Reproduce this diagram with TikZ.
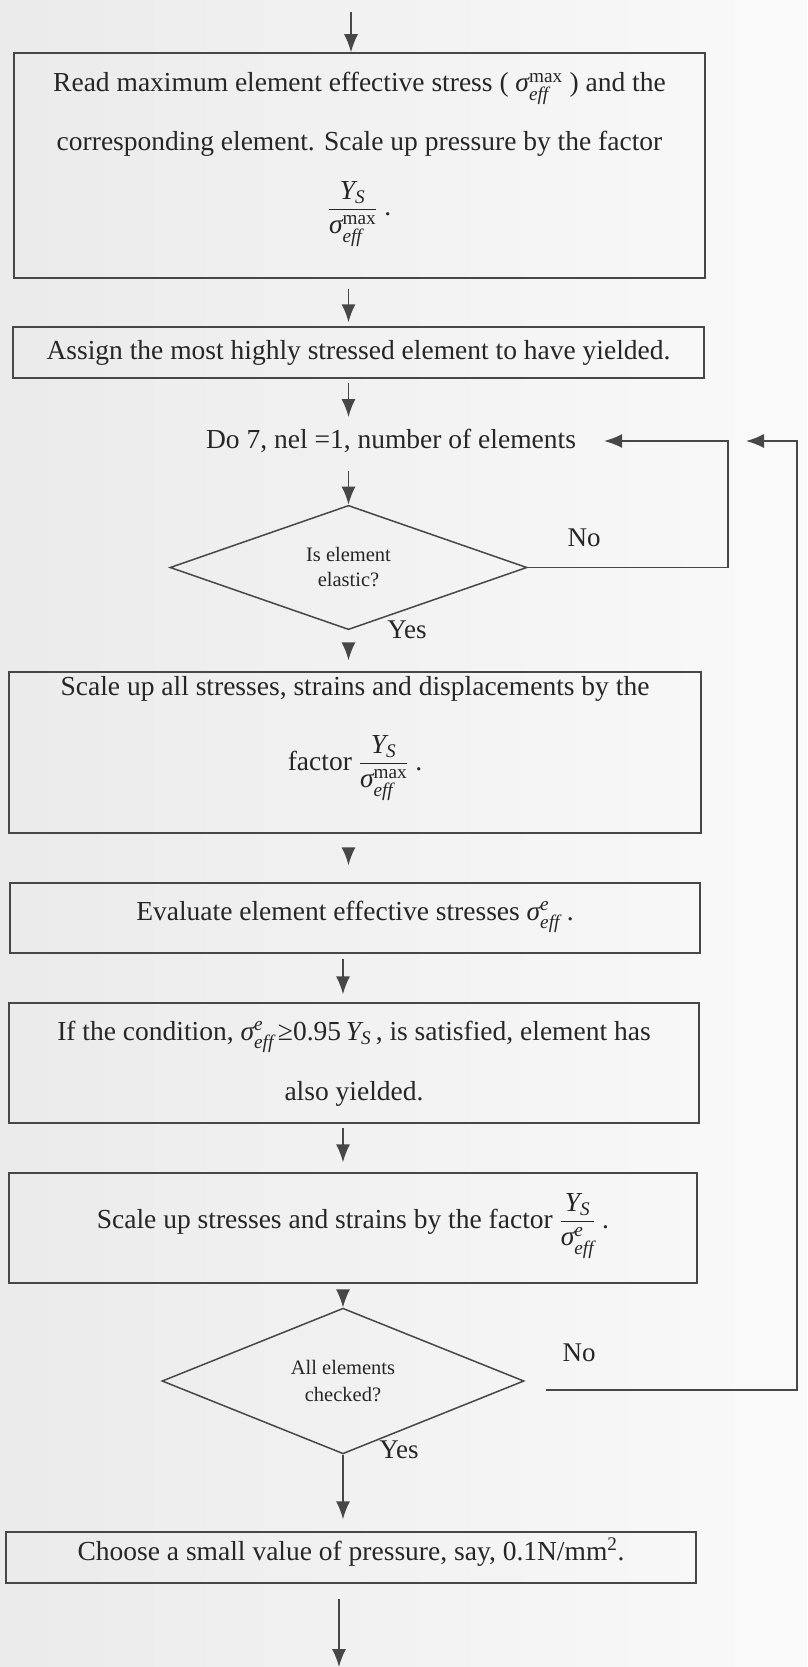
\documentclass[tikz,border=0pt]{standalone}
\usepackage{amsmath}
\usepackage{fontspec}
\setmainfont{Liberation Serif}
\usetikzlibrary{arrows.meta,shapes.geometric}

% symbols used in the step texts
\newcommand{\SigMax}{\textit{σ}^{\text{max}}_{\textit{eff}}}
\newcommand{\SigE}{\textit{σ}^{\textit{e}}_{\textit{eff}}}
\newcommand{\YS}{\textit{Y}_{\textit{S}}}

\tikzset{
  flow/.style={draw=black!72, line width=1.5pt},
  % a process box: the first baseline sits "text height" below the top edge
  box/.style={flow, rectangle, inner sep=0pt, align=flush center, text=black!85,
    font=\fontsize{27.5}{59}\selectfont},
  decision/.style={flow, diamond, inner sep=0pt, align=center, text=black!85,
    font=\fontsize{20.5}{25}\selectfont},
  plain/.style={inner sep=0pt, text=black!85, font=\fontsize{27.5}{33}\selectfont},
  tag/.style={inner sep=0pt, text=black!85, font=\fontsize{27}{32}\selectfont},
  arrow/.style={flow, -{Latex[length=18pt,width=14pt]}},
}

\begin{document}
\begin{tikzpicture}[x=1pt, y=-1pt]
\useasboundingbox (0,0) rectangle (807,1667);
\shade[left color=black!8, right color=black!2] (0,0) rectangle (807,1667);

% ---- steps ----
\node[box, text width=691pt, text height=39pt, text depth=186pt] (b1) at (359.5,165.5)
  {Read maximum element effective stress ( $\SigMax$ ) and the\\
   corresponding element. Scale up pressure by the factor\\[6pt]
   $\dfrac{\YS}{\SigMax}$ .};
\node[box, text width=691pt, text height=32pt, text depth=19pt] (b2) at (358.5,352.5)
  {Assign the most highly stressed element to have yielded.};
\node[plain] (do) at (391,441) {Do 7, nel =1, number of elements};
\node[decision, minimum width=357pt, minimum height=115pt] (d1) at (348.5,567.5)
  {Is element\\elastic?};
\node[box, text width=692pt, text height=23pt, text depth=138pt] (b3) at (355,752.5)
  {Scale up all stresses, strains and displacements by the\\[16pt]
   factor $\dfrac{\YS}{\SigMax}$ .};
\node[box, text width=690pt, text height=37pt, text depth=33pt] (b4) at (355,918)
  {Evaluate element effective stresses $\SigE$ .};
\node[box, text width=690pt, text height=37pt, text depth=83pt] (b5) at (354,1063)
  {If the condition, $\SigE\,$≥0.95\,$\YS$\,, is satisfied, element has\\[1pt]
   also yielded.};
\node[box, text width=688pt, text height=55pt, text depth=55pt] (b6) at (353,1228)
  {Scale up stresses and strains by the factor $\dfrac{\YS}{\SigE}$ .};
\node[decision, minimum width=362pt, minimum height=128pt,
  font=\fontsize{20.5}{27}\selectfont] (d2) at (343,1381)
  {All elements\\checked?};
\node[box, text width=690pt, text height=28pt, text depth=23pt] (b7) at (351,1557.5)
  {Choose a small value of pressure, say, 0.1N/mm\textsuperscript{2}.};

% ---- branch labels ----
\node[tag] (no1) at (584,538) {No};
\node[tag] (yes1) at (407,630) {Yes};
\node[tag] (no2) at (579,1353) {No};
\node[tag] (yes2) at (399,1450) {Yes};

% ---- main flow ----
\coordinate (entry) at (351,12);
\coordinate (exit) at (339,1667);
\draw[arrow] (entry) -- (entry |- b1.north);
\draw[arrow, shorten <=10pt, shorten >=4pt] (b1.south -| d1) -- (b2.north -| d1);
\draw[arrow, shorten <=4pt, shorten >=12pt] (b2.south -| d1) -- (do.north -| d1);
\draw[arrow, shorten <=18pt] (do.south -| d1) -- (d1.north);
\draw[arrow, shorten <=18pt, shorten >=11pt] (d1.south) -- (b3.north -| d1);
\draw[arrow, shorten <=15pt, shorten >=17pt] (b3.south -| d1) -- (b4.north -| d1);
\draw[arrow, shorten <=5pt, shorten >=8pt] (b4.south -| d2) -- (b5.north -| d2);
\draw[arrow, shorten <=4pt, shorten >=10pt] (b5.south -| d2) -- (b6.north -| d2);
\draw[arrow, shorten <=15pt] (b6.south -| d2) -- (d2.north);
\draw[arrow, shorten >=12pt] (d2.south) -- (b7.north -| d2);
\draw[arrow, shorten <=15pt] (b7.south -| exit) -- (exit);

% ---- loop-backs to the Do statement ----
\coordinate (loopA) at (728,441);
\coordinate (loopB) at (797,441);
\draw[arrow] (d1.east) -| (loopA) -- ([xshift=28pt]do.east);
\draw[arrow] ([shift={(21pt,-9pt)}]d2.east) -| (loopB) -- ([xshift=-51pt]loopB);
\end{tikzpicture}
\end{document}
